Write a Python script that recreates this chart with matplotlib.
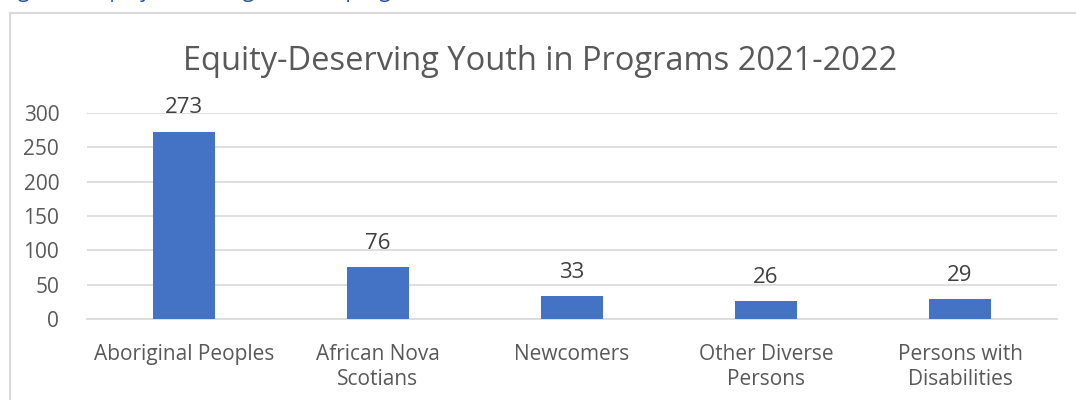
import matplotlib.pyplot as plt
from matplotlib.patches import Rectangle

categories = ['Aboriginal Peoples', 'African Nova\nScotians', 'Newcomers',
              'Other Diverse\nPersons', 'Persons with\nDisabilities']
values = [273, 76, 33, 26, 29]
yticks = [0, 50, 100, 150, 200, 250, 300]

plt.rcParams['font.family'] = ['Open Sans', 'DejaVu Sans']

W, H = 1076, 400
fig = plt.figure(figsize=(W / 100, H / 100), dpi=100)

# chart frame (Excel chart area border)
fig.patches.append(Rectangle((10 / W, -0.1), 1.2, 1 - 13 / H + 0.1,
                             transform=fig.transFigure, fill=False,
                             edgecolor='#d9d9d9', linewidth=1.5))

# caption above the chart, cut off by the image edge
fig.text(2 / W, 1 + 3 / H, 'Figure 6: Equity-Deserving Youth in programs 2021-2022',
         color='#2f5496', fontsize=15, va='baseline', ha='left')

ax = fig.add_axes([87 / W, 1 - 319 / H, (1057 - 87) / W, (319 - 113) / H])
x = range(len(categories))
bars = ax.bar(x, values, width=0.315, color='#4472c4', zorder=3)
for b, v in zip(bars, values):
    ax.annotate(str(v), (b.get_x() + b.get_width() / 2, v), xytext=(0, 13),
                textcoords='offset points', ha='center', va='baseline',
                fontsize=16, color='#404040')

ax.set_xlim(-0.5, len(categories) - 0.5)
ax.set_ylim(0, 300)
ax.set_yticks(yticks)
ax.set_xticks(list(x))
ax.set_xticklabels(categories, linespacing=1.25)
ax.tick_params(axis='both', length=0, labelsize=15, labelcolor='#595959')
ax.tick_params(axis='y', pad=20)
ax.tick_params(axis='x', pad=18)
ax.grid(axis='y', color='#d9d9d9', linewidth=1.2, zorder=0)
for s in ['top', 'right', 'left']:
    ax.spines[s].set_visible(False)
ax.spines['bottom'].set_color('#d9d9d9')
ax.spines['bottom'].set_linewidth(1.2)

fig.text(540 / W, 1 - 62 / H, 'Equity-Deserving Youth in Programs 2021-2022',
         ha='center', va='center', fontsize=23.5, color='#595959')

fig.savefig('out.png', dpi=100)
